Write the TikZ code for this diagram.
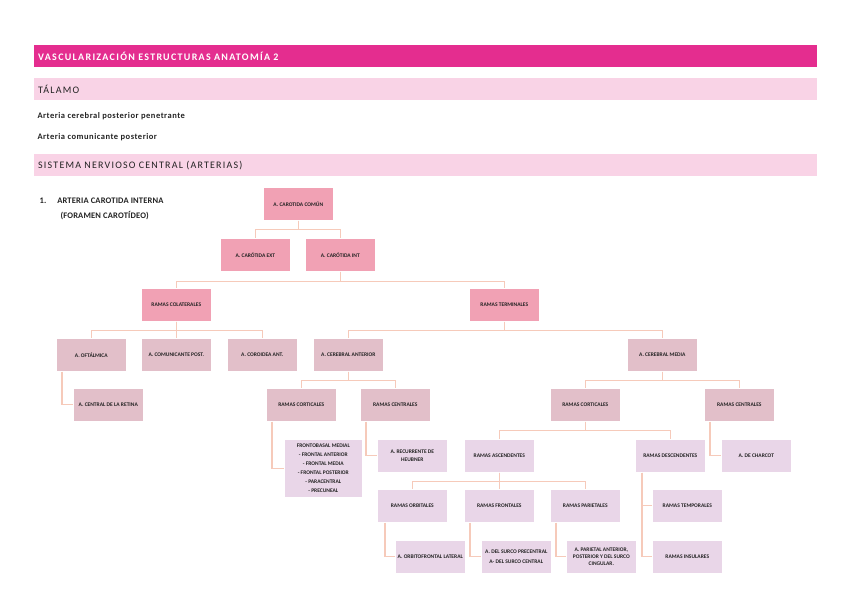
\documentclass[tikz,border=0pt]{standalone}
\usepackage{fontspec}
\setmainfont{Carlito}
\usetikzlibrary{positioning}
\definecolor{titlecolor}{RGB}{228,45,143}
\definecolor{bandcolor}{RGB}{249,211,230}
\definecolor{rootcolor}{RGB}{241,161,180}
\definecolor{branchcolor}{RGB}{226,191,201}
\definecolor{leafcolor}{RGB}{233,214,232}
\definecolor{linkcolor}{RGB}{246,202,186}
\definecolor{inkcolor}{RGB}{35,35,35}

\begin{document}
\begin{tikzpicture}[
    x=1pt, y=-1pt,
    band/.style={anchor=north west, minimum height=22pt, text width=775pt, inner xsep=4pt, align=left, font=\fontsize{10}{11}\selectfont\addfontfeature{LetterSpace=12}},
    artery/.style={anchor=north west, draw=white, line width=0.6pt, minimum width=70pt, minimum height=33pt, inner sep=1pt, text=inkcolor, font=\bfseries\fontsize{5.5}{7}\selectfont, align=center},
    link/.style={draw=linkcolor, line width=1.2pt},
    note/.style={anchor=west, text=inkcolor, font=\bfseries\fontsize{8.5}{15}\selectfont\addfontfeature{LetterSpace=6}}
]
    \useasboundingbox (0,0) rectangle (848,599);
    \fill[white] (0,0) rectangle (848,599);

    % Headings
    \node[band, fill=titlecolor, text=white, font=\bfseries\fontsize{10}{11}\selectfont\addfontfeature{LetterSpace=13}] (title) at (34,45) {VASCULARIZACIÓN ESTRUCTURAS ANATOMÍA 2};
    \node[band, fill=bandcolor, text=inkcolor] (talamo) at (34,78) {TÁLAMO};
    \node[note] (penet) at (34,116) {Arteria cerebral posterior penetrante};
    \node[note] (comunic) at (34,137) {Arteria comunicante posterior};
    \node[band, fill=bandcolor, text=inkcolor] (snc) at (34,154) {SISTEMA NERVIOSO CENTRAL (ARTERIAS)};
    \node[note, anchor=north west, align=left, font=\bfseries\fontsize{8.5}{15}\selectfont\addfontfeature{LetterSpace=2}] (item) at (36,194) {1.\hspace{11pt}ARTERIA CAROTIDA INTERNA\\\hspace{21pt}(FORAMEN CAROTÍDEO)};

    % Carotids
    \node[artery, fill=rootcolor] (comun) at (263,187) {A. CAROTIDA COMÚN};
    \node[artery, fill=rootcolor] (ext) at (220,238) {A. CARÓTIDA EXT};
    \node[artery, fill=rootcolor] (int) at (305,238) {A. CARÓTIDA INT};
    \node[artery, fill=rootcolor] (colat) at (141,288) {RAMAS COLATERALES};
    \node[artery, fill=rootcolor] (termin) at (469,288) {RAMAS TERMINALES};

    % Collateral branches
    \node[artery, fill=branchcolor] (oft) at (56,338) {A. OFTÁLMICA};
    \node[artery, fill=branchcolor] (compost) at (141,338) {A. COMUNICANTE POST.};
    \node[artery, fill=branchcolor] (corant) at (227,338) {A. COROIDEA ANT.};
    \node[artery, fill=branchcolor] (retina) at (73,388) {A. CENTRAL DE LA RETINA};

    % Terminal branches
    \node[artery, fill=branchcolor] (cerant) at (313,338) {A. CEREBRAL ANTERIOR};
    \node[artery, fill=branchcolor] (cermed) at (627,338) {A. CEREBRAL MEDIA};
    \node[artery, fill=branchcolor] (antcort) at (266,388) {RAMAS CORTICALES};
    \node[artery, fill=branchcolor] (antcent) at (360,388) {RAMAS CENTRALES};
    \node[artery, fill=branchcolor] (medcort) at (550,388) {RAMAS CORTICALES};
    \node[artery, fill=branchcolor] (medcent) at (704,388) {RAMAS CENTRALES};

    \node[artery, fill=leafcolor, minimum width=78pt, minimum height=58pt, font=\bfseries\fontsize{5.5}{9}\selectfont] (frontlist) at (284,439) {FRONTOBASAL MEDIAL\\- FRONTAL ANTERIOR\\- FRONTAL MEDIA\\- FRONTAL POSTERIOR\\- PARACENTRAL\\- PRECUNEAL};
    \node[artery, fill=leafcolor, font=\bfseries\fontsize{5.5}{8}\selectfont] (heubner) at (377,439) {A. RECURRENTE DE\\HEUBNER};
    \node[artery, fill=leafcolor] (ascend) at (464,439) {RAMAS ASCENDENTES};
    \node[artery, fill=leafcolor] (descend) at (635,439) {RAMAS DESCENDENTES};
    \node[artery, fill=leafcolor] (charcot) at (721,439) {A. DE CHARCOT};

    \node[artery, fill=leafcolor] (orbit) at (377,489) {RAMAS ORBITALES};
    \node[artery, fill=leafcolor] (frontal) at (464,489) {RAMAS FRONTALES};
    \node[artery, fill=leafcolor] (pariet) at (550,489) {RAMAS PARIETALES};
    \node[artery, fill=leafcolor] (temporal) at (652,489) {RAMAS TEMPORALES};
    \node[artery, fill=leafcolor] (insular) at (652,540) {RAMAS INSULARES};

    \node[artery, fill=leafcolor] (orbfront) at (395,540) {A. ORBITOFRONTAL LATERAL};
    \node[artery, fill=leafcolor, font=\bfseries\fontsize{5.5}{10}\selectfont] (surco) at (481,540) {A. DEL SURCO PRECENTRAL\\A- DEL SURCO CENTRAL};
    \node[artery, fill=leafcolor] (parant) at (566,540) {A. PARIETAL ANTERIOR,\\POSTERIOR Y DEL SURCO\\CINGULAR.};

    % Tree connectors
    \draw[link] (comun.south) -- ++(0,9) -| (ext.north);
    \draw[link] (comun.south) -- ++(0,9) -| (int.north);
    \draw[link] (int.south) -- ++(0,10) -| (colat.north);
    \draw[link] (int.south) -- ++(0,10) -| (termin.north);
    \draw[link] (colat.south) -- ++(0,9) -| (oft.north);
    \draw[link] (colat.south) -- ++(0,9) -| (compost.north);
    \draw[link] (colat.south) -- ++(0,9) -| (corant.north);
    \draw[link] (termin.south) -- ++(0,9) -| (cerant.north);
    \draw[link] (termin.south) -- ++(0,9) -| (cermed.north);
    \draw[link] (cerant.south) -- ++(0,9) -| (antcort.north);
    \draw[link] (cerant.south) -- ++(0,9) -| (antcent.north);
    \draw[link] (cermed.south) -- ++(0,9) -| (medcort.north);
    \draw[link] (cermed.south) -- ++(0,9) -| (medcent.north);
    \draw[link] (medcort.south) -- ++(0,9) -| (ascend.north);
    \draw[link] (medcort.south) -- ++(0,9) -| (descend.north);
    \draw[link] (ascend.south) -- ++(0,9) -| (orbit.north);
    \draw[link] (ascend.south) -- ++(0,9) -| (frontal.north);
    \draw[link] (ascend.south) -- ++(0,9) -| (pariet.north);

    % Side connectors
    \draw[link] ([xshift=6pt]oft.south west) |- (retina.west);
    \draw[link] ([xshift=6pt]antcort.south west) |- (frontlist.west);
    \draw[link] ([xshift=6pt]antcent.south west) |- (heubner.west);
    \draw[link] ([xshift=6pt]medcent.south west) |- (charcot.west);
    \draw[link] ([xshift=7pt]descend.south west) |- (temporal.west);
    \draw[link] ([xshift=7pt]descend.south west) |- (insular.west);
    \draw[link] ([xshift=8pt]orbit.south west) |- (orbfront.west);
    \draw[link] ([xshift=6pt]frontal.south west) |- (surco.west);
    \draw[link] ([xshift=6pt]pariet.south west) |- (parant.west);
\end{tikzpicture}
\end{document}
